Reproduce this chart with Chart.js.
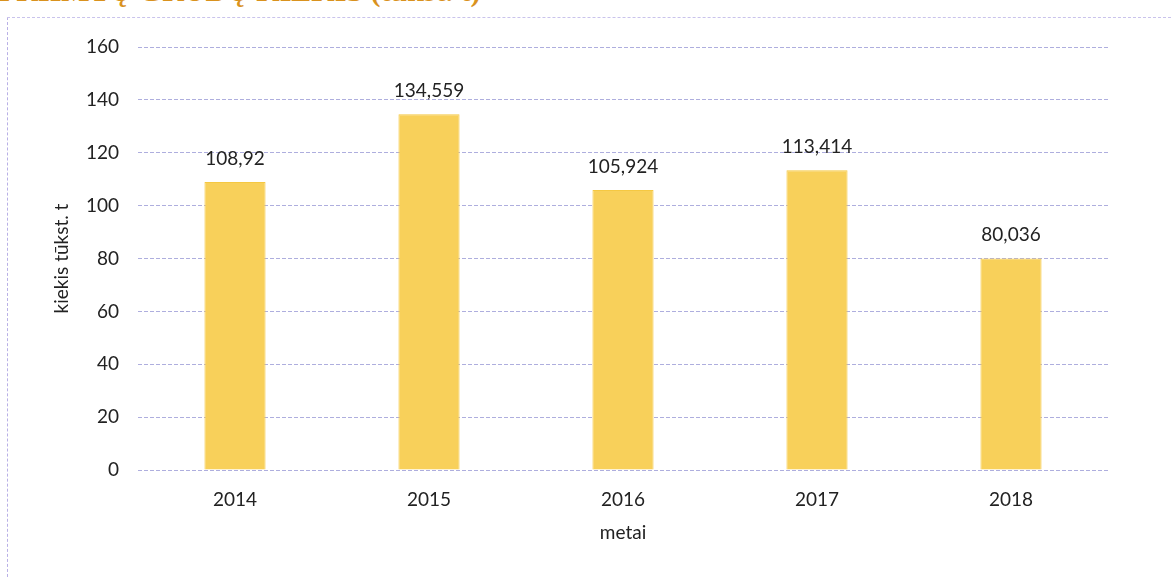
<!DOCTYPE html>
<html>
<head>
<meta charset="utf-8">
<script src="https://cdn.jsdelivr.net/npm/chart.js@4.4.1/dist/chart.umd.min.js"></script>
<style>
    html, body { margin: 0; padding: 0; background: #fff; overflow: hidden; }
    #wrap { position: relative; width: 1171px; height: 577px; }
    #title {
        position: absolute; left: -2px; top: -24px;
        font-family: "Liberation Serif", "DejaVu Serif", serif;
        font-weight: bold; font-size: 30px; line-height: 30px;
        color: #d9921e; white-space: nowrap;
    }
    #frame {
        position: absolute; left: 7px; top: 17px; right: -5px; bottom: -5px;
        border-left: 1px dashed #b9b0e6; border-top: 1px dashed #c9c3ec;
    }
    #scoreChart { position: absolute; left: 0; top: 0; }
</style>
</head>
<body>
<div id="wrap">
    <div id="title">PRIIMTŲ GRŪDŲ KIEKIS (tūkst. t)</div>
    <div id="frame"></div>
    <canvas id="scoreChart" width="1171" height="577"></canvas>
</div>
<script>
const years = ['2014', '2015', '2016', '2017', '2018'];
const amounts = [108.92, 134.559, 105.924, 113.414, 80.036];
const yTicks = [0, 20, 40, 60, 80, 100, 120, 140, 160];

const fontName = 'Lato, "Open Sans", sans-serif';

// value labels above the bars, comma as decimal separator
const valueLabels = {
    id: 'valueLabels',
    afterDatasetsDraw(chart) {
        const ctx = chart.ctx;
        const meta = chart.getDatasetMeta(0);
        ctx.save();
        ctx.font = '19px ' + fontName;
        ctx.fillStyle = '#222';
        ctx.textAlign = 'center';
        ctx.textBaseline = 'bottom';
        meta.data.forEach(function (bar, i) {
            let txt = String(amounts[i]).replace('.', ',');
            ctx.fillText(txt, bar.x, bar.y - 14);
        });
        ctx.restore();
    }
};

const ctx = document.getElementById('scoreChart').getContext('2d');

new Chart(ctx, {
    type: 'bar',
    data: {
        labels: years,
        datasets: [{
            label: 'kiekis',
            data: amounts,
            backgroundColor: '#f8d05a',
            borderColor: '#f5c842',
            borderWidth: 1,
            barPercentage: 0.315,
            categoryPercentage: 1
        }]
    },
    options: {
        responsive: false,
        animation: false,
        layout: {
            padding: { left: 50, right: 63, top: 47, bottom: 33 }
        },
        plugins: {
            legend: { display: false },
            tooltip: { enabled: false }
        },
        scales: {
            x: {
                border: { display: false },
                grid: { display: false },
                ticks: {
                    color: '#222',
                    padding: 10,
                    font: { family: fontName, size: 19 }
                },
                title: {
                    display: true,
                    text: 'metai',
                    color: '#222',
                    padding: { top: 4, bottom: 0 },
                    font: { family: fontName, size: 19 }
                },
                afterFit(scale) {
                    scale.height = 74;
                }
            },
            y: {
                min: 0,
                max: 160,
                border: { display: false, dash: [4, 2] },
                afterBuildTicks(scale) {
                    scale.ticks = yTicks.map(v => ({ value: v }));
                },
                grid: {
                    drawTicks: false,
                    color: 'rgba(120, 120, 200, 0.6)',
                    lineWidth: 1
                },
                ticks: {
                    color: '#222',
                    padding: 19,
                    font: { family: fontName, size: 19 }
                },
                title: {
                    display: true,
                    text: 'kiekis tūkst. t',
                    color: '#222',
                    padding: { top: 0, bottom: 0 },
                    font: { family: fontName, size: 19 }
                },
                afterFit(scale) {
                    scale.width = 88;
                }
            }
        }
    },
    plugins: [valueLabels]
});
</script>
</body>
</html>
